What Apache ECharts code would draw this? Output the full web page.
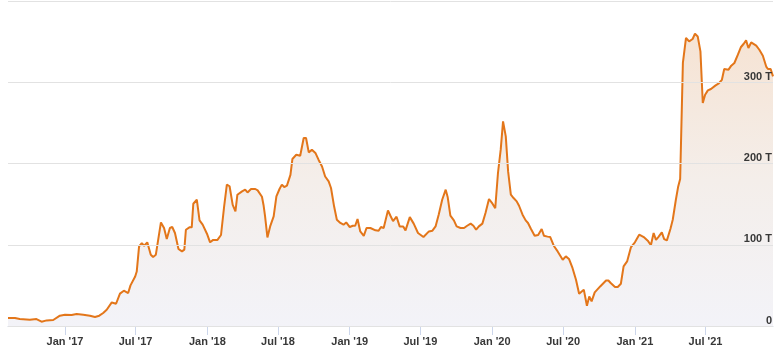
<!DOCTYPE html>
<html>
<head>
<meta charset="utf-8">
<script src="https://cdn.jsdelivr.net/npm/echarts@6/dist/echarts.min.js"></script>
<style>
  html, body { margin: 0; padding: 0; background: #ffffff; }
  #chart { width: 775px; height: 357px; }
</style>
</head>
<body>
<div id="chart"></div>
<script>
const dates = [
  '2016-08-08','2016-08-26','2016-09-07','2016-10-03','2016-10-20','2016-11-02','2016-11-15','2016-12-02','2016-12-19',
  '2017-01-01','2017-01-18','2017-01-31','2017-02-17','2017-03-06','2017-03-19','2017-03-30','2017-04-09','2017-04-18',
  '2017-05-01','2017-05-12','2017-05-22','2017-06-01','2017-06-12','2017-06-18','2017-06-30','2017-07-04','2017-07-10',
  '2017-07-17','2017-07-23','2017-07-31','2017-08-09','2017-08-15','2017-08-22','2017-09-04','2017-09-12','2017-09-19',
  '2017-09-27','2017-10-03','2017-10-10','2017-10-19','2017-10-28','2017-11-03','2017-11-07','2017-11-16','2017-11-22',
  '2017-11-26','2017-12-05','2017-12-12','2017-12-20','2017-12-31',
  '2018-01-08','2018-01-16','2018-01-27','2018-02-05','2018-02-13','2018-02-20','2018-02-27','2018-03-07','2018-03-14',
  '2018-03-19','2018-03-31','2018-04-08','2018-04-14','2018-04-23','2018-05-04','2018-05-10','2018-05-21','2018-05-25',
  '2018-05-29','2018-06-04','2018-06-11','2018-06-20','2018-06-27','2018-07-05','2018-07-11','2018-07-17','2018-07-24',
  '2018-08-02','2018-08-07','2018-08-17','2018-08-27','2018-09-05','2018-09-11','2018-09-18','2018-09-26','2018-10-05',
  '2018-10-13','2018-10-22','2018-10-30','2018-11-08','2018-11-14','2018-11-22','2018-11-29','2018-12-08','2018-12-16',
  '2018-12-23',
  '2019-01-01','2019-01-09','2019-01-15','2019-01-21','2019-01-28','2019-02-06','2019-02-13','2019-02-23','2019-02-27',
  '2019-03-08','2019-03-16','2019-03-22','2019-03-29','2019-04-09','2019-04-15','2019-04-22','2019-05-01','2019-05-09',
  '2019-05-18','2019-05-24','2019-06-04','2019-06-14','2019-06-25','2019-07-09','2019-07-23','2019-08-01','2019-08-09',
  '2019-08-17','2019-08-26','2019-09-04','2019-09-09','2019-09-16','2019-09-25','2019-10-02','2019-10-12','2019-10-21',
  '2019-10-29','2019-11-07','2019-11-14','2019-11-21','2019-11-28','2019-12-07','2019-12-15','2019-12-24',
  '2020-01-02','2020-01-09','2020-01-16','2020-01-23','2020-01-29','2020-02-05','2020-02-11','2020-02-18','2020-02-25',
  '2020-03-04','2020-03-10','2020-03-19','2020-03-27','2020-04-02','2020-04-09','2020-04-19','2020-04-28','2020-05-07',
  '2020-05-13','2020-05-22','2020-05-29','2020-06-07','2020-06-17','2020-06-30','2020-07-08','2020-07-16','2020-07-25',
  '2020-08-03','2020-08-11','2020-08-23','2020-08-31','2020-09-06','2020-09-12','2020-09-20','2020-10-04','2020-10-19',
  '2020-10-25','2020-10-31','2020-11-11','2020-11-18','2020-11-26','2020-12-03','2020-12-12','2020-12-22',
  '2021-01-01','2021-01-12','2021-01-16','2021-01-25','2021-02-03','2021-02-11','2021-02-18','2021-02-24','2021-03-02',
  '2021-03-11','2021-03-17','2021-03-24','2021-04-02','2021-04-08','2021-04-16','2021-04-22','2021-04-27','2021-05-04',
  '2021-05-12','2021-05-20','2021-05-29','2021-06-04','2021-06-11','2021-06-18','2021-06-24','2021-06-30','2021-07-07',
  '2021-07-15','2021-07-26','2021-08-03','2021-08-12','2021-08-18','2021-08-29','2021-09-05','2021-09-13','2021-09-22',
  '2021-09-30','2021-10-07','2021-10-13','2021-10-19','2021-10-26','2021-11-08','2021-11-16','2021-11-25','2021-12-04',
  '2021-12-08','2021-12-15','2021-12-21'
];
const hashrate = [
  9.8,9.8,8.6,7.8,8.6,5.3,6.9,7.4,12.7,
  13.9,13.5,14.8,13.9,12.7,11.1,12.7,16,20,
  29,27.4,39.8,43.4,40.6,50,61,67,98,
  102,98.8,103,87.8,85,87.8,127.5,120.6,107,
  120.6,121.8,114.5,94.8,91.8,94,118.5,121.4,121.4,
  150.5,155.4,130,124.7,113.6,
  103,106,106,112,147,174,172,149,141,
  161.6,165.7,167.8,164.4,168.6,168.6,166.9,159,149,
  135,109,122.6,135,159.5,168.6,174,171,172.7,
  186,205.5,210.8,209.6,231.4,231.4,213.7,217,213,
  204.7,196.4,184,178,169.8,147,130.8,126.8,124.7,
  127.5,
  121.8,123.4,123.4,131.7,116.4,111,120.6,120.6,122.6,
  117.7,117.3,121.8,120.6,142.3,136,129,134.5,122.6,
  122.6,117.7,134,126,114.5,109.5,116.4,117.3,122.6,
  137,155.4,167.8,158.8,135.8,130,122.6,120.6,120.6,
  123.4,126,123.4,118.5,122.6,126,139,156.3,
  150.5,145,188.3,217,251.8,233.4,190.3,161.6,157.5,
  153.4,148,137,130,126.8,120,111,112,119.4,
  111,110,109.5,98.8,91.8,81.6,85.7,82.5,71.4,
  57,39.8,44.7,25,36.4,30.3,41.4,48.7,56,
  56,52.9,48,48,52,73.4,79.5,97.2,
  103,112.4,112,109,105,99.4,114.5,106,109.5,
  115.2,107,105.4,119.4,130.8,155.4,171.8,181,323.7,
  354.5,350.3,353.2,359.8,356.4,338,274.5,284.7,290,
  291.7,295.8,298.2,303,316.3,315.5,320.4,323.7,334,
  343.4,347.4,351.5,342.2,349,345,340,332.7,318.8,
  316.3,316.3,307.2
];
const tickDates = ['2017-01-01','2017-07-01','2018-01-01','2018-07-01','2019-01-01','2019-07-01','2020-01-01','2020-07-01','2021-01-01','2021-07-01'];
const monthNames = ['Jan','Feb','Mar','Apr','May','Jun','Jul','Aug','Sep','Oct','Nov','Dec'];
const yTickLabels = ['0', '100 T', '200 T', '300 T'];
const xRange = ['2016-08-08', '2021-12-21'];

function ts(s) {
  const p = s.split('-').map(Number);
  return Date.UTC(p[0], p[1] - 1, p[2]);
}

const seriesData = dates.map((d, i) => [ts(d), hashrate[i]]);
const tickValues = tickDates.map(ts);
const labelFont = { fontFamily: 'Liberation Sans, Arial, sans-serif', fontSize: 11, fontWeight: 'bold', color: '#383838' };

const chart = echarts.init(document.getElementById('chart'), null, { renderer: 'canvas' });
chart.setOption({
  animation: false,
  backgroundColor: '#ffffff',
  grid: { left: 8, right: 2, top: 1, bottom: 31, containLabel: false },
  xAxis: {
    type: 'value',
    min: ts(xRange[0]),
    max: ts(xRange[1]),
    axisLine: { show: true, onZero: false, lineStyle: { color: '#ccd6eb', width: 1 } },
    axisTick: { show: true, length: 9, lineStyle: { color: '#ccd6eb' }, customValues: tickValues },
    axisLabel: Object.assign({
      margin: 10,
      customValues: tickValues,
      formatter: function (v) {
        const d = new Date(v);
        return monthNames[d.getUTCMonth()] + " '" + String(d.getUTCFullYear()).slice(2);
      }
    }, labelFont),
    splitLine: { show: false }
  },
  yAxis: {
    type: 'value',
    position: 'right',
    min: 0,
    max: 400,
    interval: 100,
    axisLine: { show: false },
    axisTick: { show: false },
    axisLabel: Object.assign({
      show: true,
      inside: true,
      margin: 1,
      verticalAlign: 'bottom',
      lineHeight: 11,
      showMaxLabel: false,
      formatter: function (v) {
        const i = Math.round(v / 100);
        return i < yTickLabels.length ? yTickLabels[i] : '';
      }
    }, labelFont),
    splitLine: { show: true, lineStyle: { color: '#e2e2e2', width: 1 } },
    z: 5
  },
  series: [{
    type: 'line',
    data: seriesData,
    showSymbol: false,
    symbol: 'none',
    smooth: false,
    lineStyle: { color: '#e3761a', width: 2 },
    areaStyle: {
      opacity: 1,
      color: new echarts.graphic.LinearGradient(0, 0, 0, 1, [
        { offset: 0, color: '#f6e3d3' },
        { offset: 0.5, color: '#f4eeea' },
        { offset: 1, color: '#f3f3f8' }
      ])
    },
    z: 2
  }]
});
</script>
</body>
</html>
